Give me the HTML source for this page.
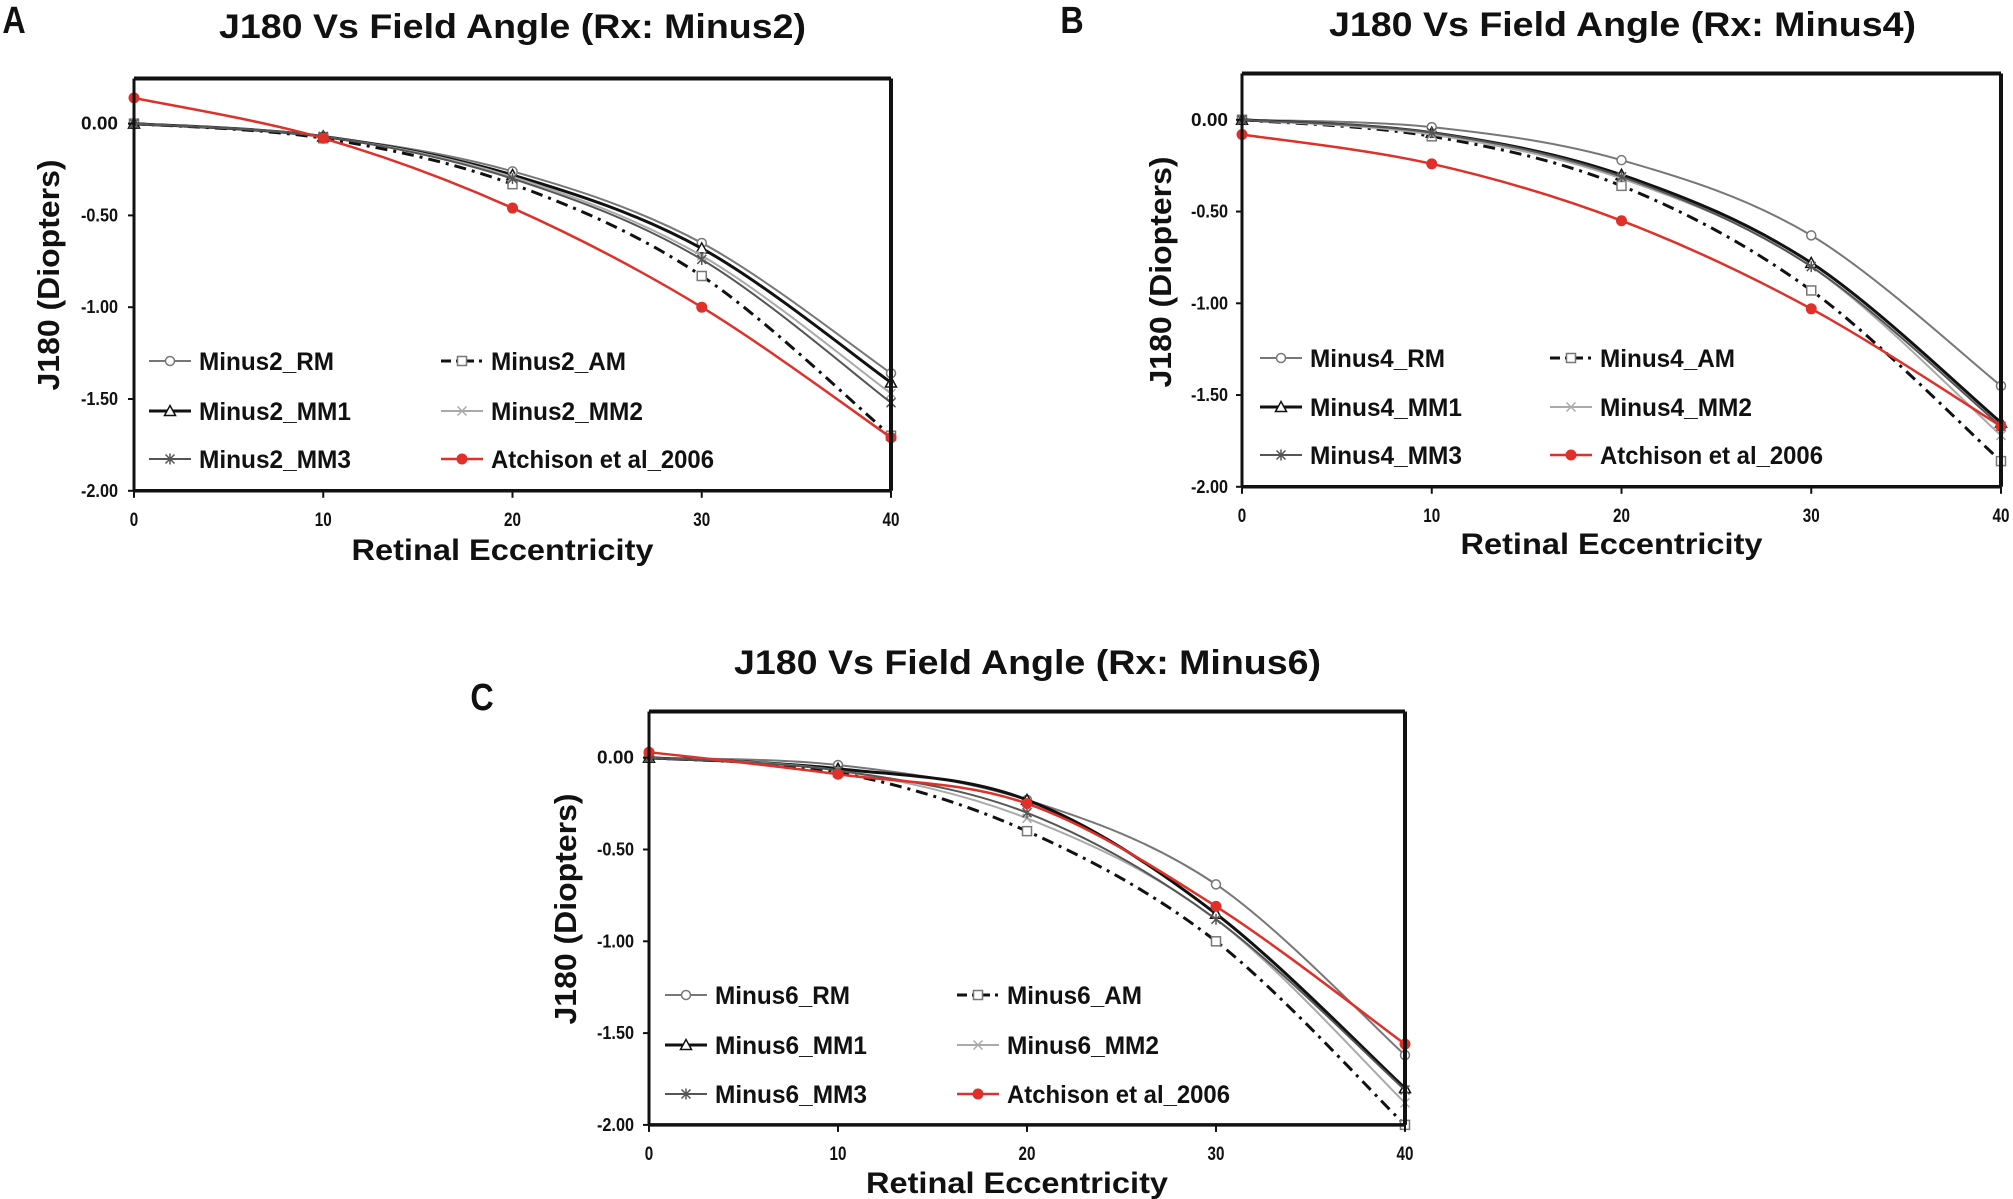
<!DOCTYPE html>
<html><head><meta charset="utf-8"><style>
html,body{margin:0;padding:0;background:#fff;}
svg{display:block;}
text{font-family:"Liberation Sans",Arial,sans-serif;font-weight:bold;fill:#111;}
</style></head><body>
<svg id="fig" width="2013" height="1199" viewBox="0 0 2013 1199" xmlns="http://www.w3.org/2000/svg"></svg>
<script>
const xCategories = [0, 10, 20, 30, 40];
const yTicks = [0, -0.5, -1, -1.5, -2];
const yTickLabels = ["0.00", "-0.50", "-1.00", "-1.50", "-2.00"];
const xTickLabels = ["0", "10", "20", "30", "40"];

const aRM  = [0, -0.07, -0.26, -0.65, -1.36];
const aAM  = [0, -0.08, -0.33, -0.83, -1.70];
const aMM1 = [0, -0.07, -0.28, -0.68, -1.41];
const aMM2 = [0, -0.07, -0.29, -0.72, -1.47];
const aMM3 = [0, -0.07, -0.30, -0.74, -1.52];
const aAtc = [0.14, -0.08, -0.46, -1.00, -1.71];

const bRM  = [0, -0.04, -0.22, -0.63, -1.45];
const bAM  = [0, -0.09, -0.36, -0.93, -1.86];
const bMM1 = [0, -0.07, -0.30, -0.78, -1.65];
const bMM2 = [0, -0.08, -0.32, -0.80, -1.72];
const bMM3 = [0, -0.07, -0.31, -0.80, -1.67];
const bAtc = [-0.08, -0.24, -0.55, -1.03, -1.67];

const cRM  = [0, -0.04, -0.23, -0.69, -1.62];
const cAM  = [0, -0.08, -0.40, -1.00, -2.00];
const cMM1 = [0, -0.06, -0.23, -0.85, -1.80];
const cMM2 = [0, -0.07, -0.33, -0.88, -1.88];
const cMM3 = [0, -0.07, -0.30, -0.88, -1.81];
const cAtc = [0.03, -0.09, -0.25, -0.81, -1.56];

const NS = "http://www.w3.org/2000/svg";
const svg = document.getElementById('fig');
function mk(tag, attrs, parent){const e=document.createElementNS(NS,tag);for(const k in attrs)e.setAttribute(k,attrs[k]);(parent||svg).appendChild(e);return e;}
function txt(s, attrs, parent){const e=mk('text',attrs,parent);e.textContent=s;return e;}

const styles = {
  RM:{stroke:'#777',w:2,dash:null,marker:'circle'},
  AM:{stroke:'#111',w:3,dash:'12,6,3,6',marker:'square'},
  MM1:{stroke:'#111',w:3,dash:null,marker:'triangle'},
  MM2:{stroke:'#aaa',w:2,dash:null,marker:'x'},
  MM3:{stroke:'#555',w:2,dash:null,marker:'star'},
  Atc:{stroke:'#e0302a',w:2.5,dash:null,marker:'dot'}
};

const panels = [
  {id:'a', letter:'A', lx:14, ly:33, rx:'Minus2', L:134, R:891, T:78.5, y0:123.6, step:91.8, tx:512, ty:38, xty:519, xtitle:549, ytx:48, yty:275, tickR:118,
   leg:{c1:149, c2:441, rows:[361,411,459]}, series:{RM:aRM,AM:aAM,MM1:aMM1,MM2:aMM2,MM3:aMM3,Atc:aAtc}},
  {id:'b', letter:'B', lx:1072, ly:33, rx:'Minus4', L:1242, R:2001, T:73.5, y0:119.8, step:91.75, tx:1622, ty:36, xty:515, xtitle:543, ytx:1160, yty:272, tickR:1228,
   leg:{c1:1260, c2:1550, rows:[358,407,455]}, series:{RM:bRM,AM:bAM,MM1:bMM1,MM2:bMM2,MM3:bMM3,Atc:bAtc}},
  {id:'c', letter:'C', lx:482, ly:710, rx:'Minus6', L:649, R:1405, T:711.5, y0:757.7, step:91.8, tx:1027, ty:674, xty:1153, xtitle:1182, ytx:565, yty:909, tickR:634,
   leg:{c1:665, c2:957, rows:[995,1045,1094]}, series:{RM:cRM,AM:cAM,MM1:cMM1,MM2:cMM2,MM3:cMM3,Atc:cAtc}}
];

function drawMarker(g, kind, x, y, color){
  const r=4.5;
  if(kind==='circle') return mk('circle',{cx:x,cy:y,r:r,fill:'#fff',stroke:color,'stroke-width':1.5},g);
  if(kind==='square') return mk('rect',{x:x-r,y:y-r,width:2*r,height:2*r,fill:'#fff',stroke:'#777','stroke-width':1.5},g);
  if(kind==='triangle') return mk('path',{d:`M${x},${y-r-1}L${x+r+1},${y+r}L${x-r-1},${y+r}Z`,fill:'#fff',stroke:color,'stroke-width':1.5},g);
  if(kind==='x') return mk('path',{d:`M${x-r},${y-r}L${x+r},${y+r}M${x-r},${y+r}L${x+r},${y-r}`,stroke:color,'stroke-width':1.5,fill:'none'},g);
  if(kind==='star') return mk('path',{d:`M${x-r},${y-r}L${x+r},${y+r}M${x-r},${y+r}L${x+r},${y-r}M${x},${y-r-1}L${x},${y+r+1}`,stroke:color,'stroke-width':1.5,fill:'none'},g);
  return mk('circle',{cx:x,cy:y,r:r+0.5,fill:color,stroke:color,'stroke-width':1},g);
}

function smoothPath(pts){
  let d=`M${pts[0][0]},${pts[0][1]}`;
  for(let i=0;i<pts.length-1;i++){
    const p0=pts[Math.max(0,i-1)],p1=pts[i],p2=pts[i+1],p3=pts[Math.min(pts.length-1,i+2)];
    const c1x=p1[0]+(p2[0]-p0[0])/6,c1y=p1[1]+(p2[1]-p0[1])/6;
    const c2x=p2[0]-(p3[0]-p1[0])/6,c2y=p2[1]-(p3[1]-p1[1])/6;
    d+=`C${c1x},${c1y} ${c2x},${c2y} ${p2[0]},${p2[1]}`;
  }
  return d;
}

const legendOrder = [['RM',0,0],['AM',1,0],['MM1',0,1],['MM2',1,1],['MM3',0,2],['Atc',1,2]];

panels.forEach(p=>{
  const g=mk('g',{});
  
  
  const xs=v=>p.L+(v-xCategories[0])/(xCategories[4]-xCategories[0])*(p.R-p.L);
  const yScale=v=>p.y0+(-v/0.5)*p.step;
  const B=yScale(-2);

  const lt=txt(p.letter,{x:p.lx,y:p.ly,'font-size':38,'text-anchor':'middle',transform:`translate(${p.lx},0) scale(0.85,1) translate(${-p.lx},0)`},g);
  
  
  const t=txt(`J180 Vs Field Angle (Rx: ${p.rx})`,{x:p.tx-293,y:p.ty,'font-size':34,textLength:587,lengthAdjust:'spacingAndGlyphs'},g);
  
  

  Object.keys(p.series).forEach(k=>{
    const st=styles[k], vals=p.series[k];
    const pts=xCategories.map((c,i)=>[xs(c),yScale(vals[i])]);
    const sg=mk('g',{},g);
    
    
    const a={d:smoothPath(pts),fill:'none',stroke:st.stroke,'stroke-width':st.w};
    if(st.dash)a['stroke-dasharray']=st.dash;
    mk('path',a,sg);
    pts.forEach(pt=>{const m=drawMarker(sg,st.marker,pt[0],pt[1],st.stroke);
      
      });
  });

  const fr=mk('g',{},g);
  
  
  mk('line',{x1:p.L,y1:p.T,x2:p.R,y2:p.T,stroke:'#111','stroke-width':4},fr);
  mk('line',{x1:p.R,y1:p.T,x2:p.R,y2:B,stroke:'#111','stroke-width':4},fr);
  mk('line',{x1:p.L,y1:p.T,x2:p.L,y2:B,stroke:'#111','stroke-width':3},fr);
  mk('line',{x1:p.L,y1:B,x2:p.R,y2:B,stroke:'#111','stroke-width':3.5},fr);

  yTicks.forEach((v,i)=>{
    const y=yScale(v);
    mk('line',{x1:p.L-6,y1:y,x2:p.L,y2:y,stroke:'#111','stroke-width':2},g);
    const tl=txt(yTickLabels[i],{x:p.tickR,y:y+6,'font-size':18,'text-anchor':'end',textLength:37,lengthAdjust:'spacingAndGlyphs'},g);
    
    
  });
  xCategories.forEach((c,i)=>{
    const x=xs(c);
    mk('line',{x1:x,y1:B,x2:x,y2:B+7,stroke:'#111','stroke-width':2},g);
    const tl=txt(xTickLabels[i],{x:x,y:p.xty+7,'font-size':19,'text-anchor':'middle',transform:`translate(${x},0) scale(0.8,1) translate(${-x},0)`},g);
    
    
  });
  const xt=txt('Retinal Eccentricity',{x:(p.L+p.R)/2-151-10,y:p.xtitle+11,'font-size':30,textLength:302,lengthAdjust:'spacingAndGlyphs'},g);
  
  
  const yt=txt('J180 (Diopters)',{x:0,y:0,'font-size':31,'text-anchor':'middle',textLength:231,lengthAdjust:'spacingAndGlyphs',transform:`translate(${p.ytx+11},${p.yty}) rotate(-90)`},g);
  
  

  const lg=mk('g',{},g);
  
  
  legendOrder.forEach(([k,col,row])=>{
    const st=styles[k];
    const lx=col===0?p.leg.c1:p.leg.c2, y=p.leg.rows[row];
    const eg=mk('g',{},lg);
    
    
    const a={x1:lx,y1:y,x2:lx+42,y2:y,stroke:st.stroke,'stroke-width':st.w};
    if(st.dash)a['stroke-dasharray']='10,5,3,5';
    mk('line',a,eg);
    drawMarker(eg,st.marker,lx+21,y,st.stroke);
    const label=k==='Atc'?'Atchison et al_2006':`${p.rx}_${k}`;
    const wl=k==='Atc'?223:(k==='RM'?135:(k==='AM'?135:152));
    txt(label,{x:lx+50,y:y+9,'font-size':25,textLength:wl,lengthAdjust:'spacingAndGlyphs'},eg);
  });
});
</script>
</body></html>
